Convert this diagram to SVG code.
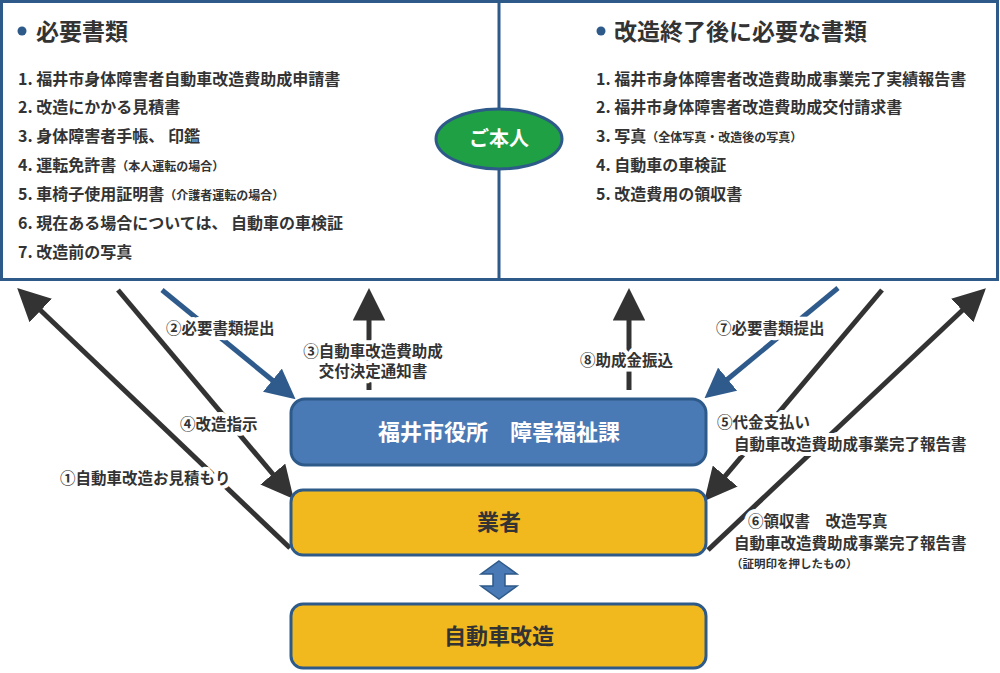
<svg xmlns="http://www.w3.org/2000/svg" width="1000" height="673" viewBox="0 0 1000 673">
<style>
text{font-family:"Noto Sans CJK JP","Noto Sans",sans-serif;font-weight:bold;fill:#333}
.it{font-size:16px}
.ttl{font-size:23px}
.lb{font-size:15.5px;stroke:#fff;stroke-width:8px;paint-order:stroke;stroke-linejoin:round}
.ln{stroke:#333;stroke-width:5;fill:none}
.bl{stroke:#2f5b8c;stroke-width:5;fill:none}
</style>
<defs>
<marker id="ad" viewBox="0 0 10 10" refX="2" refY="5" markerWidth="6.5" markerHeight="6.5" orient="auto" markerUnits="strokeWidth"><path d="M0,0 L10,5 L0,10 Z" fill="#333"/></marker>
<marker id="ab" viewBox="0 0 10 10" refX="2" refY="5" markerWidth="6" markerHeight="6" orient="auto" markerUnits="strokeWidth"><path d="M0,0 L10,5 L0,10 Z" fill="#2f5b8c"/></marker>
</defs>
<rect width="1000" height="673" fill="#fff"/>
<g id="panel">
<rect x="1.5" y="1.5" width="996" height="278" fill="#fff" stroke="#2e5a8a" stroke-width="3"/>
<line x1="499" y1="1" x2="499" y2="280" stroke="#2e5a8a" stroke-width="3"/>
<circle cx="22" cy="31" r="4.5" fill="#2e5a8a"/>
<text class="ttl" x="36" y="40">必要書類</text>
<text class="it" x="18" y="85">1. 福井市身体障害者自動車改造費助成申請書</text>
<text class="it" x="18" y="113">2. 改造にかかる見積書</text>
<text class="it" x="18" y="142">3. 身体障害者手帳、 印鑑</text>
<text class="it" x="18" y="171">4. 運転免許書<tspan font-size="12">（本人運転の場合）</tspan></text>
<text class="it" x="18" y="200">5. 車椅子使用証明書<tspan font-size="12">（介護者運転の場合）</tspan></text>
<text class="it" x="18" y="229">6. 現在ある場合については、 自動車の車検証</text>
<text class="it" x="18" y="258">7. 改造前の写真</text>
<circle cx="601" cy="31" r="4.5" fill="#2e5a8a"/>
<text class="ttl" x="614" y="40">改造終了後に必要な書類</text>
<text class="it" x="596" y="85">1. 福井市身体障害者改造費助成事業完了実績報告書</text>
<text class="it" x="596" y="113">2. 福井市身体障害者改造費助成交付請求書</text>
<text class="it" x="596" y="142">3. 写真<tspan font-size="12">（全体写真・改造後の写真）</tspan></text>
<text class="it" x="596" y="171">4. 自動車の車検証</text>
<text class="it" x="596" y="200">5. 改造費用の領収書</text>
</g>
<g id="honnin">
<ellipse cx="499" cy="139" rx="63" ry="30" fill="#1fa045" stroke="#2e5a8a" stroke-width="3"/>
<text x="499" y="146" text-anchor="middle" font-size="20" style="fill:#fff">ご本人</text>
</g>
<g id="connectors">
<line class="ln" x1="290" y1="548" x2="36" y2="306" marker-end="url(#ad)"/>
<line class="ln" x1="118" y1="290" x2="277" y2="479" marker-end="url(#ad)"/>
<line class="bl" x1="162" y1="290" x2="277" y2="384" marker-end="url(#ab)"/>
<line class="ln" x1="369" y1="390" x2="369" y2="314" marker-end="url(#ad)"/>
<line class="ln" x1="629" y1="390" x2="629" y2="314" marker-end="url(#ad)"/>
<line class="bl" x1="838" y1="288" x2="723" y2="383" marker-end="url(#ab)"/>
<line class="ln" x1="882" y1="290" x2="721" y2="481" marker-end="url(#ad)"/>
<line class="ln" x1="708" y1="550" x2="967" y2="306" marker-end="url(#ad)"/>
<text class="lb" x="166" y="334">②必要書類提出</text>
<text class="lb" x="373" y="357" text-anchor="middle">③自動車改造費助成</text>
<text class="lb" x="373" y="377" text-anchor="middle">交付決定通知書</text>
<text class="lb" x="580" y="366">⑧助成金振込</text>
<text class="lb" x="716" y="334">⑦必要書類提出</text>
<text class="lb" x="180" y="430">④改造指示</text>
<text class="lb" x="60" y="484">①自動車改造お見積もり</text>
<text class="lb" x="717" y="428">⑤代金支払い</text>
<text class="lb" x="734" y="450">自動車改造費助成事業完了報告書</text>
<text class="lb" x="748" y="527">⑥領収書　改造写真</text>
<text class="lb" x="734" y="549">自動車改造費助成事業完了報告書</text>
<text class="lb" x="731" y="568" style="font-size:11.5px">（証明印を押したもの）</text>
<path d="M499,561 L517,574 L505,574 L505,586 L517,586 L499,599 L481,586 L493,586 L493,574 L481,574 Z" fill="#4a7ab5" stroke="#2e5a8a" stroke-width="1.5"/>
</g>
<g id="city">
<rect x="291" y="399" width="415" height="66" rx="14" fill="#4a7ab5" stroke="#2e5a8a" stroke-width="3"/>
<text x="499" y="440" text-anchor="middle" font-size="22" style="fill:#fff">福井市役所　障害福祉課</text>
</g>
<g id="gyosha">
<rect x="291" y="490" width="415" height="65" rx="12" fill="#f2b91f" stroke="#2e5a8a" stroke-width="3"/>
<text x="499" y="530" text-anchor="middle" font-size="22">業者</text>
</g>
<g id="kaizo">
<rect x="291" y="604" width="415" height="64" rx="12" fill="#f2b91f" stroke="#2e5a8a" stroke-width="3"/>
<text x="499" y="644" text-anchor="middle" font-size="22">自動車改造</text>
</g>
</svg>
